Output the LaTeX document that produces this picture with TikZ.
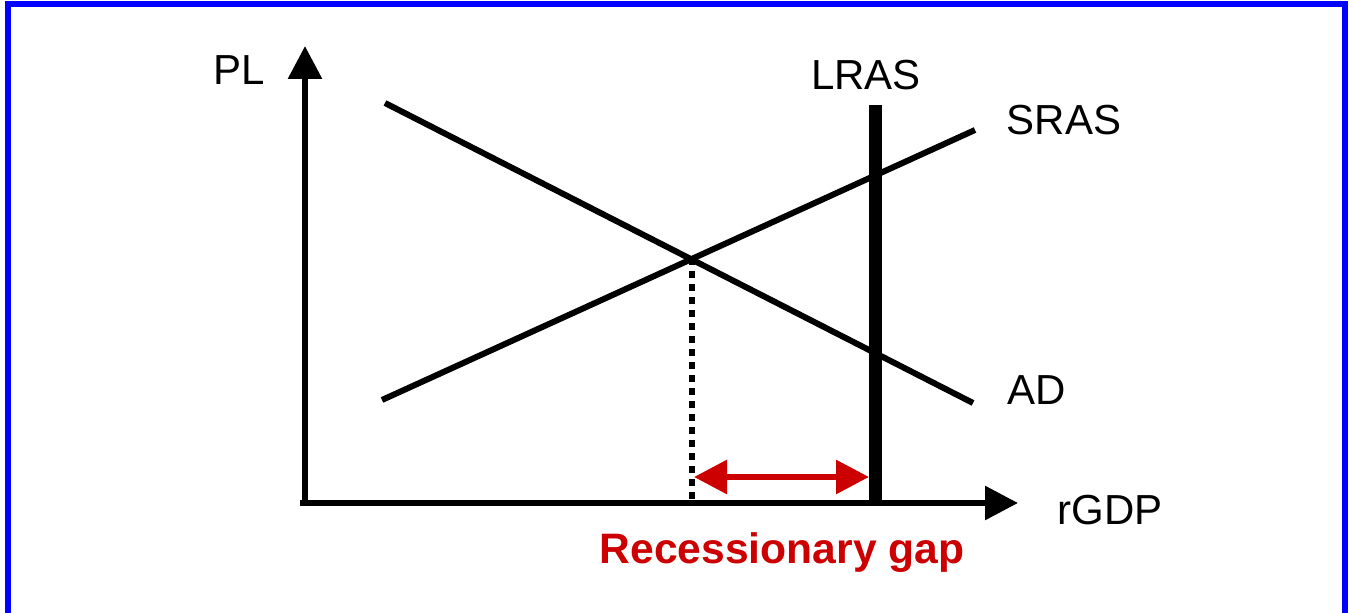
\documentclass[tikz,border=0pt]{standalone}
\usepackage{fontspec}
\setmainfont{Liberation Sans}
\usetikzlibrary{arrows.meta}
\definecolor{frameblue}{RGB}{0,0,255}
\definecolor{gapred}{RGB}{204,0,0}
\tikzset{
  axis/.style={line width=3pt,-{Triangle[length=16.5pt,width=16.5pt]}},
  curve/.style={line width=3pt},
  lras/.style={line width=6.5pt},
  dotline/.style={line width=3pt,dash pattern=on 3.5pt off 3pt},
  gaparrow/.style={line width=3pt,draw=gapred,{Triangle[length=16.5pt,width=16.5pt,fill=gapred]}-{Triangle[length=16.5pt,width=16.5pt,fill=gapred]}},
  lbl/.style={font=\fontsize{21}{25}\selectfont,inner sep=0pt},
  gaplbl/.style={font=\fontsize{21.3}{25}\selectfont\bfseries,text=gapred,inner sep=0pt}
}
\begin{document}
\begin{tikzpicture}[x=0.5pt,y=-0.5pt]
\useasboundingbox (0,0) rectangle (1354,613);
\fill[white] (0,0) rectangle (1354,613);
% frame
\draw[frameblue,line width=3pt] (8,640) -- (8,4.5) -- (1345,4.5) -- (1345,640);
% coordinates
\coordinate (Ytop) at (305,46);
\coordinate (Ybot) at (305,506);
\coordinate (Xend) at (1018,503);
\coordinate (Ostart) at (300,503);
\coordinate (ADa) at (385,103);
\coordinate (ADb) at (973,403);
\coordinate (SRa) at (382,400);
\coordinate (SRb) at (975,130);
\coordinate (LRtop) at (875,105);
\coordinate (LRbot) at (875,506);
\coordinate (E) at (692,258);
\coordinate (Ebot) at (692,500);
\coordinate (GapL) at (694,477);
\coordinate (GapR) at (869,477);
% axes
\draw[axis] (Ybot) -- (Ytop);
\draw[axis] (Ostart) -- (Xend);
% curves
\draw[curve] (ADa) -- (ADb);
\draw[curve] (SRa) -- (SRb);
\draw[lras] (LRtop) -- (LRbot);
\draw[dotline] (E) -- (Ebot);
\draw[gaparrow] (GapL) -- (GapR);
% labels
\node[lbl] (pl) at (239,70) {PL};
\node[lbl] (lraslbl) at (866,75) {LRAS};
\node[lbl] (sraslbl) at (1064,120) {SRAS};
\node[lbl] (adlbl) at (1037,390) {AD};
\node[lbl] (rgdp) at (1110,510) {rGDP};
\node[gaplbl] (gap) at (782,553) {Recessionary gap};
\end{tikzpicture}
\end{document}
